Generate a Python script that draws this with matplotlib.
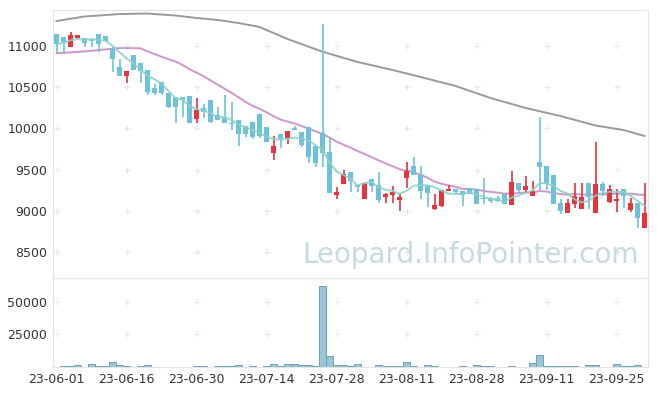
import matplotlib
matplotlib.use("Agg")
import matplotlib.pyplot as plt
import numpy as np
import pandas as pd

# daily candles (index = trading day)
opens = [11146, 11106, 10992, 11100, 11100, 11085, 11146, 11121, 10963, 10749,
         10640, 10891, 10790, 10709, 10487, 10567, 10426, 10377, 10377, 10393,
         10114, 10244, 10345, 10163, 10122, 10070, 10102, 10029, 10082, 10175,
         10013, 9698, 9932, 9888, 10009, 9956, 10013, 9786, 9940, 9714,
         9195, 9329, 9471, 9316, 9147, 9382, 9313, 9171, 9195, 9131,
         9402, 9543, 9434, 9305, 9022, 9062, 9244, 9264, 9240, 9276,
         9264, 9145, 9140, 9152, 9204, 9070, 9337, 9252, 9183, 9589,
         9543, 9434, 9091, 8978, 9083, 9022, 9337, 8978, 9325, 9111,
         9123, 9264, 9010, 9091, 8795]
closes = [11021, 11052, 11133, 11133, 11040, 11060, 11021, 11060, 10842, 10636,
          10697, 10709, 10700, 10446, 10434, 10426, 10263, 10263, 10345, 10069,
          10223, 10203, 10082, 10102, 10069, 10058, 9928, 9928, 9900, 9912,
          9839, 9786, 9868, 9968, 9975, 9798, 9657, 9584, 9697, 9212,
          9232, 9443, 9366, 9293, 9341, 9305, 9131, 9204, 9228, 9164,
          9487, 9434, 9244, 9212, 9070, 9252, 9264, 9228, 9192, 9204,
          9083, 9135, 9123, 9119, 9079, 9345, 9252, 9301, 9244, 9535,
          9341, 9083, 8998, 9091, 9180, 9164, 9164, 9325, 9240, 9264,
          9143, 9180, 9091, 8916, 8970]
highs = [11150, 11106, 11166, 11133, 11100, 11085, 11146, 11121, 10992, 10839,
         10697, 10891, 10790, 10709, 10535, 10567, 10426, 10377, 10377, 10393,
         10365, 10293, 10345, 10256, 10405, 10325, 10102, 10029, 10082, 10175,
         10013, 9912, 9932, 9968, 10029, 9956, 10013, 9786, 11267, 9880,
         9293, 9495, 9471, 9316, 9341, 9382, 9475, 9213, 9301, 9200,
         9596, 9657, 9543, 9305, 9200, 9252, 9317, 9264, 9240, 9276,
         9264, 9402, 9164, 9180, 9204, 9483, 9337, 9422, 9366, 10142,
         9543, 9434, 9140, 9140, 9333, 9333, 9337, 9831, 9350, 9310,
         9264, 9264, 9150, 9091, 9333]
lows = [10919, 10919, 10992, 11100, 10984, 10984, 10931, 11060, 10688, 10636,
        10547, 10709, 10547, 10405, 10405, 10405, 10244, 10062, 10142, 10062,
        10062, 10122, 10062, 10102, 10069, 9980, 9786, 9900, 9876, 9880,
        9839, 9617, 9758, 9811, 9975, 9780, 9576, 9535, 9535, 9212,
        9140, 9329, 9232, 9232, 9147, 9232, 9090, 9090, 9090, 9000,
        9272, 9434, 9140, 9050, 9010, 9040, 9244, 9204, 9058, 9204,
        9083, 9083, 9100, 9111, 9079, 9070, 9200, 9220, 9183, 9252,
        9252, 9083, 8958, 8978, 9034, 9022, 9022, 8978, 9180, 9091,
        8990, 9034, 8990, 8795, 8795]
volumes = [0, 770, 770, 1540, 0, 2050, 770, 770, 3850, 1540,
           770, 0, 770, 1540, 0, 0, 0, 0, 0, 0,
           770, 770, 0, 770, 770, 770, 1540, 0, 770, 0,
           770, 2300, 770, 2300, 2300, 1540, 1540, 770, 62300, 8700,
           1540, 1540, 770, 2050, 0, 0, 1540, 770, 770, 770,
           3850, 770, 0, 1540, 770, 0, 0, 0, 770, 0,
           1540, 770, 770, 0, 0, 770, 0, 0, 3080, 9230,
           770, 770, 770, 770, 770, 0, 1540, 1540, 0, 0,
           2050, 770, 770, 1540, 0]

# 20-day average before enough days are on screen
ma20_head_idx = [0, 4, 6, 9, 12, 13, 15, 17, 18]
ma20_head = [10911, 10935, 10950, 10975, 10972, 10935, 10870, 10810, 10770]
# long average (gray line)
ma_long_idx = [0, 4, 9, 13, 17, 20, 23, 26, 29, 33, 38, 43, 48, 52, 57, 62, 67, 72, 77, 81, 84]
ma_long = [11303, 11358, 11388, 11394, 11370, 11340, 11316, 11279, 11231, 11085,
           10931, 10806, 10709, 10624, 10515, 10369, 10248, 10150, 10035, 9980, 9908]

tick_idx = [0, 10, 20, 30, 40, 50, 60, 70, 80]
tick_labels = ["23-06-01", "23-06-16", "23-06-30", "23-07-14", "23-07-28",
               "23-08-11", "23-08-28", "23-09-11", "23-09-25"]
price_ticks = [8500, 9000, 9500, 10000, 10500, 11000]
vol_ticks = [25000, 50000]

UP = "#e8323c"
DOWN = "#6cc3d9"
EDGE = "#e4e4e4"

x = np.arange(len(closes))
o = np.array(opens)
c = np.array(closes)
s = pd.Series(closes)
ma5 = s.rolling(5, min_periods=1).mean()
ma20 = s.rolling(20).mean()

fig = plt.figure(figsize=(6.57, 3.96), dpi=100)
ax = fig.add_axes([53/657, 1-278/396, 595/657, 268/396])
axv = fig.add_axes([53/657, 1-367/396, 595/657, 89/396], sharex=ax)

# little crosses at the tick intersections instead of grid lines
gx, gy = np.meshgrid(tick_idx, price_ticks)
ax.scatter(gx.ravel(), gy.ravel(), marker="+", s=22, color="#e6e6e6", lw=0.8, zorder=0)
gx, gy = np.meshgrid(tick_idx, vol_ticks)
axv.scatter(gx.ravel(), gy.ravel(), marker="+", s=22, color="#e6e6e6", lw=0.8, zorder=0)

ax.plot(ma_long_idx, ma_long, color="#9a9a9a", lw=1.4, zorder=1)
ax.plot(ma20_head_idx + list(x[19:]), ma20_head + list(ma20[19:]),
        color="#c98bc6", lw=1.4, alpha=0.9, zorder=1)

colors = [UP if cc > oo else DOWN for oo, cc in zip(opens, closes)]
ax.vlines(x, lows, highs, colors=colors, lw=1.2, zorder=2)
body = np.where(np.abs(c - o) < 12, 12, c - o)  # keep doji visible
ax.bar(x, body, bottom=o, width=0.72, color=colors, zorder=3)

ax.plot(x, ma5, color="#8ccfc6", lw=1.4, alpha=0.85, zorder=4)

ax.text(0.985, 0.055, "Leopard.InfoPointer.com", transform=ax.transAxes,
        ha="right", va="baseline", fontsize=20, color="#c6dae6", zorder=5)

axv.bar(x, volumes, width=1.0, color="#9cc5d5", edgecolor="#6aa3bb", lw=0.7)

ax.set_xlim(-0.5, 84.5)
ax.set_ylim(8184, 11437)
axv.set_ylim(0, 68460)

ax.set_yticks(price_ticks)
axv.set_yticks(vol_ticks)
axv.set_xticks(tick_idx)
axv.set_xticklabels(tick_labels)
plt.setp(ax.get_xticklabels(), visible=False)

for a in (ax, axv):
    for sp in a.spines.values():
        sp.set_color(EDGE)
    a.tick_params(length=0, labelsize=9, colors="#333333", pad=4)

fig.savefig("out.png", dpi=100)
